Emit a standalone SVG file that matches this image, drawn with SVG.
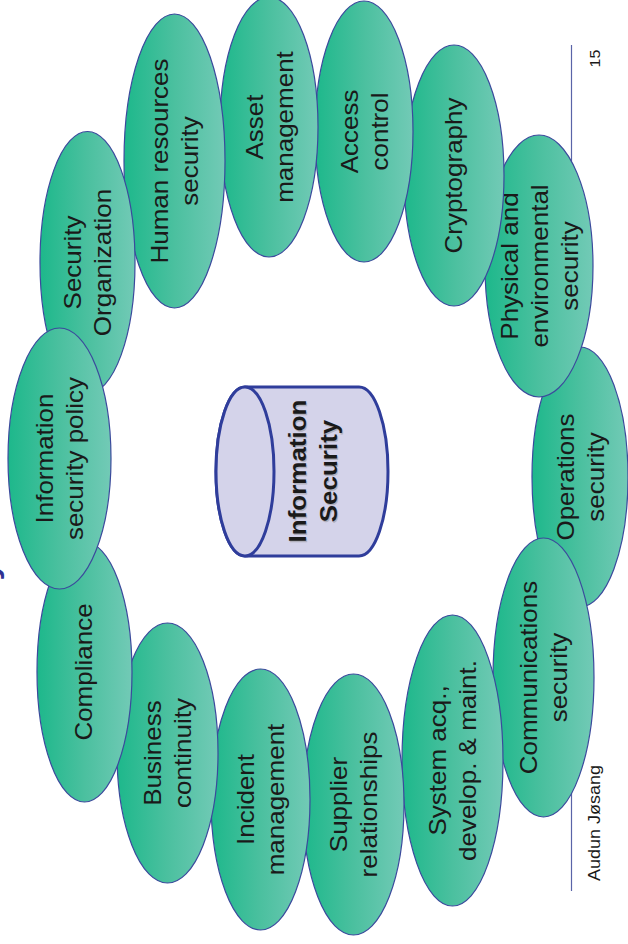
<svg xmlns="http://www.w3.org/2000/svg" width="628" height="944" viewBox="0 0 628 944">
<defs>
<linearGradient id="g" x1="0" y1="0" x2="1" y2="0">
<stop offset="0" stop-color="#1db88b"/>
<stop offset="0.5" stop-color="#4bc09f"/>
<stop offset="1" stop-color="#72cab6"/>
</linearGradient>
<style>
.e{fill:url(#g);stroke:#3b4a9c;stroke-width:1.2}
.t{font-family:"Liberation Sans",Arial,sans-serif;font-size:26px;fill:#1a1a1a;text-anchor:middle}
.cyl{fill:#d4d3ea;stroke:#2f3d9b;stroke-width:3}
.ct{font-family:"Liberation Sans",Arial,sans-serif;font-size:26px;font-weight:bold;fill:#1a1a1a;text-anchor:middle}
.cs{font-family:"Liberation Sans",Arial,sans-serif;font-size:26px;font-weight:bold;fill:#888;opacity:0.45;text-anchor:middle}
.f{font-family:"Liberation Sans",Arial,sans-serif;fill:#1a1a1a;text-anchor:middle}
</style>
</defs>
<rect width="628" height="944" fill="#ffffff"/>
<g id="frame">
<line x1="571.5" y1="45" x2="571.5" y2="891" stroke="#5a64a8" stroke-width="1.2"/>
<text class="f" font-size="16" transform="translate(594,58.5) scale(0.887,1) rotate(-90)" y="6.8">15</text>
<text class="f" font-size="18" transform="translate(595,823) scale(0.887,1) rotate(-90)" y="5.2">Audun Jøsang</text>
<text font-family="Liberation Sans,Arial,sans-serif" font-size="34" font-weight="bold" fill="#2e3192" text-anchor="middle" transform="translate(0,571) scale(0.887,1) rotate(-90)" y="-2">y</text>
</g>
<g id="connectors"></g>
<g id="operations">
<ellipse class="e" cx="580" cy="477" rx="48" ry="130"/>
<text class="t" transform="translate(580,477) scale(0.887,1) rotate(-90)"><tspan x="0" y="-7">Operations</tspan><tspan x="0" y="27">security</tspan></text>
</g>
<g id="communications">
<ellipse class="e" cx="543.5" cy="677.5" rx="50.5" ry="139.5"/>
<text class="t" transform="translate(543.5,677.5) scale(0.887,1) rotate(-90)"><tspan x="0" y="-7">Communications</tspan><tspan x="0" y="27">security</tspan></text>
</g>
<g id="system">
<ellipse class="e" cx="452.5" cy="760.5" rx="50.5" ry="145.5"/>
<text class="t" transform="translate(452.5,760.5) scale(0.887,1) rotate(-90)"><tspan x="0" y="-7">System acq.,</tspan><tspan x="0" y="27">develop. &amp; maint.</tspan></text>
</g>
<g id="supplier">
<ellipse class="e" cx="353.5" cy="804.5" rx="50.5" ry="130.5"/>
<text class="t" transform="translate(353.5,804.5) scale(0.887,1) rotate(-90)"><tspan x="0" y="-7">Supplier</tspan><tspan x="0" y="27">relationships</tspan></text>
</g>
<g id="incident">
<ellipse class="e" cx="260.5" cy="799.5" rx="49.5" ry="130.5"/>
<text class="t" transform="translate(260.5,799.5) scale(0.887,1) rotate(-90)"><tspan x="0" y="-7">Incident</tspan><tspan x="0" y="27">management</tspan></text>
</g>
<g id="business">
<ellipse class="e" cx="167.5" cy="753" rx="50.5" ry="130"/>
<text class="t" transform="translate(167.5,753) scale(0.887,1) rotate(-90)"><tspan x="0" y="-7">Business</tspan><tspan x="0" y="27">continuity</tspan></text>
</g>
<g id="compliance">
<ellipse class="e" cx="84.5" cy="672" rx="47.5" ry="130"/>
<text class="t" transform="translate(84.5,672) scale(0.887,1) rotate(-90)" y="9">Compliance</text>
</g>
<g id="physical">
<ellipse class="e" cx="539" cy="266" rx="54" ry="131"/>
<text class="t" transform="translate(539,266) scale(0.887,1) rotate(-90)"><tspan x="0" y="-24">Physical and</tspan><tspan x="0" y="10">environmental</tspan><tspan x="0" y="44">security</tspan></text>
</g>
<g id="cryptography">
<ellipse class="e" cx="454" cy="175.5" rx="50" ry="130.5"/>
<text class="t" transform="translate(454,175.5) scale(0.887,1) rotate(-90)" y="9">Cryptography</text>
</g>
<g id="access">
<ellipse class="e" cx="364" cy="131.5" rx="49" ry="130.5"/>
<text class="t" transform="translate(364,131.5) scale(0.887,1) rotate(-90)"><tspan x="0" y="-7">Access</tspan><tspan x="0" y="27">control</tspan></text>
</g>
<g id="asset">
<ellipse class="e" cx="269" cy="127" rx="49" ry="130"/>
<text class="t" transform="translate(269,127) scale(0.887,1) rotate(-90)"><tspan x="0" y="-7">Asset</tspan><tspan x="0" y="27">management</tspan></text>
</g>
<g id="hr">
<ellipse class="e" cx="174.5" cy="161" rx="50.5" ry="147"/>
<text class="t" transform="translate(174.5,161) scale(0.887,1) rotate(-90)"><tspan x="0" y="-7">Human resources</tspan><tspan x="0" y="27">security</tspan></text>
</g>
<g id="organization">
<ellipse class="e" cx="87.5" cy="262.5" rx="47.5" ry="131"/>
<text class="t" transform="translate(87.5,262.5) scale(0.887,1) rotate(-90)"><tspan x="0" y="-7">Security</tspan><tspan x="0" y="27">Organization</tspan></text>
</g>
<g id="policy">
<ellipse class="e" cx="59.5" cy="458.5" rx="51.5" ry="130.5"/>
<text class="t" transform="translate(59.5,458.5) scale(0.887,1) rotate(-90)"><tspan x="0" y="-7">Information</tspan><tspan x="0" y="27">security policy</tspan></text>
</g>
<g id="infosec">
<path class="cyl" d="M245,387 L359,387 A29,84.5 0 0 1 359,556 L245,556 A29,84.5 0 0 1 245,387 Z"/>
<ellipse class="cyl" cx="245" cy="471.5" rx="29" ry="84.5"/>
<text class="cs" transform="translate(314.5,472.5) scale(0.887,1) rotate(-90)"><tspan x="0" y="-8">Information</tspan><tspan x="0" y="27">Security</tspan></text>
<text class="ct" transform="translate(313,471) scale(0.887,1) rotate(-90)"><tspan x="0" y="-8">Information</tspan><tspan x="0" y="27">Security</tspan></text>
</g>
</svg>
